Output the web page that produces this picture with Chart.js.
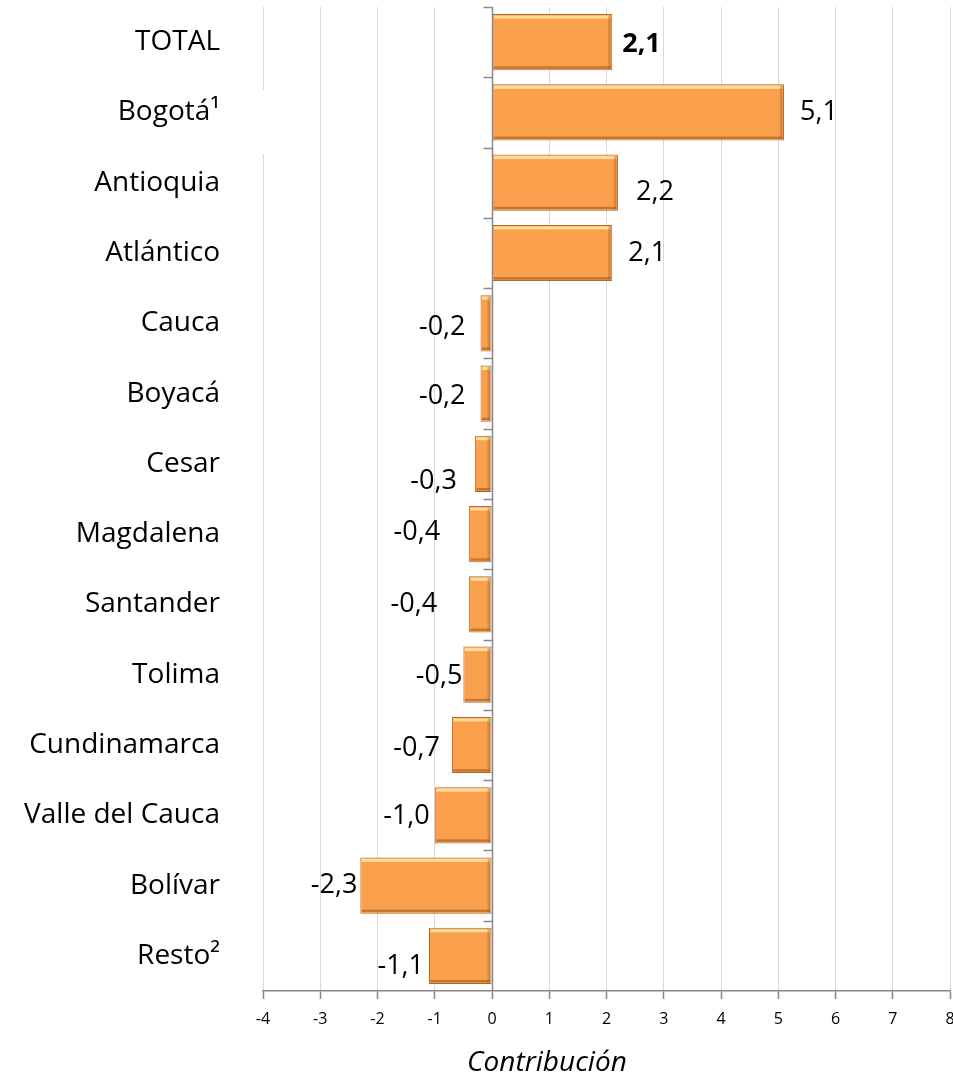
<!DOCTYPE html>
<html><head><meta charset="utf-8">
<script src="https://cdn.jsdelivr.net/npm/chart.js@4.4.1/dist/chart.umd.min.js"></script>
<style>html,body{margin:0;padding:0;background:#fff}</style></head>
<body><canvas id="c" width="953" height="1083"></canvas>
<script>
// ---- data ----
const categories = ['TOTAL','Bogotá¹','Antioquia','Atlántico','Cauca','Boyacá','Cesar','Magdalena','Santander','Tolima','Cundinamarca','Valle del Cauca','Bolívar','Resto²'];
const values = [2.1, 5.1, 2.2, 2.1, -0.2, -0.2, -0.3, -0.4, -0.4, -0.5, -0.7, -1.0, -2.3, -1.1];
const xTickMin = -4, xTickMax = 8, xTickStep = 1;
const axisTitle = 'Contribución';
// label nudges (gap from bar end, vertical shift) – style only
const labelGap = [10,16,18,16,15,15,18,29,32,1,12,5,3,5];
const labelDy  = [2,0,10,0,4,3,17,-2,0,2,3,1,0,10];

const FONT = '"Open Sans", Lato, sans-serif';

const whiteGap = {
  id:'whiteGap',
  beforeDatasetsDraw(chart){
    const {ctx} = chart, x = chart.scales.x;
    const px = x.getPixelForValue(-4);
    ctx.save(); ctx.fillStyle='#fff';
    ctx.fillRect(px-3, 90, 6, 64);
    ctx.restore();
  }
};

const zeroAxis = {
  id:'zeroAxis',
  afterDatasetsDraw(chart){
    const {ctx, chartArea} = chart, x = chart.scales.x;
    const px = Math.round(x.getPixelForValue(0)) + 0.5;
    ctx.save();
    ctx.strokeStyle = '#898989'; ctx.lineWidth = 1.5;
    ctx.beginPath(); ctx.moveTo(px, chartArea.top); ctx.lineTo(px, chartArea.bottom); ctx.stroke();
    const n = categories.length, h = (chartArea.bottom - chartArea.top)/n;
    ctx.beginPath();
    for(let i=0;i<n;i++){ const yy = Math.round(chartArea.top + i*h)+0.5; ctx.moveTo(px-9, yy); ctx.lineTo(px, yy); }
    ctx.stroke();
    ctx.restore();
  }
};

const bevel = {
  id:'bevel',
  afterDatasetsDraw(chart){
    const {ctx} = chart;
    const meta = chart.getDatasetMeta(0);
    ctx.save();
    meta.data.forEach((el)=>{
      const {x, y, base, height} = el.getProps(['x','y','base','height'], true);
      const l = Math.min(x, base), r = Math.max(x, base);
      const t = y - height/2, b = y + height/2;
      ctx.fillStyle = 'rgba(255,226,160,0.9)';
      ctx.fillRect(l+1.5, t+1.5, r-l-3, 3);
      ctx.fillStyle = 'rgba(150,85,30,0.55)';
      ctx.fillRect(l+1.5, b-4, r-l-3, 2.5);
      ctx.fillStyle = 'rgba(150,85,30,0.35)';
      ctx.fillRect(r-4, t+1.5, 2.5, b-t-3);
    });
    ctx.restore();
  }
};

const valueLabels = {
  id:'valueLabels',
  afterDatasetsDraw(chart){
    const {ctx} = chart;
    const meta = chart.getDatasetMeta(0);
    ctx.save();
    ctx.fillStyle = '#000';
    ctx.textBaseline = 'middle';
    meta.data.forEach((el,i)=>{
      const {x, y, base} = el.getProps(['x','y','base'], true);
      const v = values[i];
      const txt = v.toFixed(1).replace('.', ',');
      ctx.font = (i===0 ? 'bold ' : '') + '27px ' + FONT;
      if (v >= 0){ ctx.textAlign='left'; ctx.fillText(txt, Math.max(x,base) + labelGap[i], y + labelDy[i]); }
      else { ctx.textAlign='right'; ctx.fillText(txt, Math.min(x,base) - labelGap[i], y + labelDy[i]); }
    });
    ctx.restore();
  }
};

const xTitle = {
  id:'xTitle',
  afterDraw(chart){
    const {ctx} = chart, x = chart.scales.x;
    ctx.save();
    ctx.fillStyle = '#000';
    ctx.font = 'italic 28px ' + FONT;
    ctx.textAlign = 'center'; ctx.textBaseline = 'middle';
    ctx.fillText(axisTitle, x.getPixelForValue(0.96), x.bottom - 20);
    ctx.restore();
  }
};

new Chart(document.getElementById('c'), {
  type:'bar',
  data:{ labels: categories, datasets:[{ data: values, backgroundColor:'#FA9F4C', borderColor:'#B06A2E', borderWidth:1, borderSkipped:false, barPercentage:0.8, categoryPercentage:1 }]},
  options:{
    indexAxis:'y', responsive:false, animation:false,
    layout:{ padding:{ top:7, right:3, left:0, bottom:0 } },
    plugins:{ legend:{display:false}, tooltip:{enabled:false}, title:{display:false} },
    scales:{
      x:{ min:xTickMin, max:xTickMax,
        ticks:{ stepSize:xTickStep, color:'#000', font:{family:FONT, size:16}, padding:11 },
        grid:{ color:'#D9D9D9', lineWidth:1, tickColor:'#868686', tickLength:8, tickWidth:1.5 },
        border:{ color:'#868686', width:1.5 },
        title:{ display:false },
        afterFit(s){ s.paddingLeft = 0; s.paddingRight = 0; s.height = 92; }
      },
      y:{ ticks:{ color:'#000', font:{family:FONT, size:28}, padding:35 },
        grid:{ display:false }, border:{ display:false },
        afterFit(s){ s.width = 263; s.paddingTop = 0; s.paddingBottom = 0; }
      }
    }
  },
  plugins:[whiteGap, zeroAxis, bevel, valueLabels, xTitle]
});
</script>
</body></html>
